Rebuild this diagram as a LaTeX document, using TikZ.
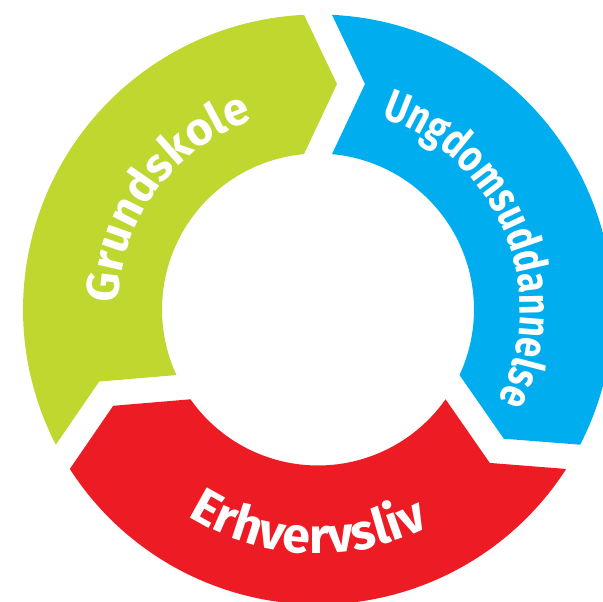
\documentclass[tikz,border=0pt]{standalone}
\usepackage{fontspec}
\setmainfont{Fira Sans}
\newfontfamily\narrowfont{Fira Sans}[FakeStretch=0.8]
\usetikzlibrary{calc,decorations.text}
\definecolor{RingGreen}{RGB}{192,215,48}
\definecolor{RingBlue}{RGB}{0,174,239}
\definecolor{RingRed}{RGB}{237,28,36}

\begin{document}
\begin{tikzpicture}[x=1pt,y=1pt,lbl/.style n args={2}{decorate,decoration={text along path,text color=white,text align=center,text={|#1\bfseries|#2}}}]
\def\ro{295}\def\ri{156}\def\rm{225.5}\def\g{14}\def\d{33}
\useasboundingbox (-318,-292.5) rectangle (285,309.5);
\clip (-318,-292.5) rectangle (285,309.5);
\foreach \c/\tailang in %
{RingGreen/210,RingBlue/90,RingRed/330} {
   \pgfmathsetmacro{\headang}{\tailang-120}
   \fill[\c] ({\tailang-asin(\g/\ro)}:\ro)
      arc[start angle={\tailang-asin(\g/\ro)},end angle={\headang+asin(\g/\ro)},radius=\ro]
      -- ($(\headang:\rm)+(\headang+90:\g-\d)$)
      -- ({\headang+asin(\g/\ri)}:\ri)
      arc[start angle={\headang+asin(\g/\ri)},end angle={\tailang-asin(\g/\ri)},radius=\ri]
      -- ($(\tailang:\rm)+(\tailang+90:-\g-\d)$) -- cycle;
}
\path[lbl={\fontsize{46}{46}\selectfont}{Grundskole}] (208.5:200) arc[start angle=208.5,end angle=78.5,radius=200];
\path[lbl={\narrowfont\fontsize{45}{45}\selectfont}{Ungdomsuddannelse}] (87.5:202) arc[start angle=87.5,end angle=-42.5,radius=202];
\path[lbl={\fontsize{50}{50}\selectfont}{Erhvervsliv}] (202.5:244) arc[start angle=202.5,end angle=332.5,radius=244];
\end{tikzpicture}
\end{document}
